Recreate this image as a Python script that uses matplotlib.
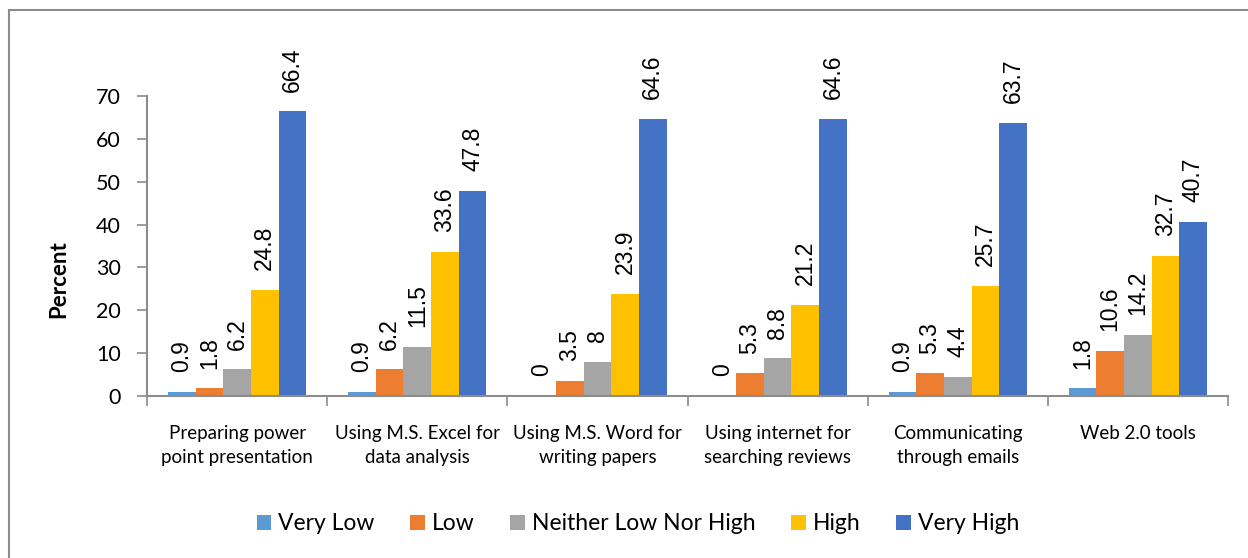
import numpy as np
import matplotlib
matplotlib.use("Agg")
import matplotlib.pyplot as plt
from matplotlib.patches import Rectangle

categories = [
    "Preparing power\npoint presentation",
    "Using M.S. Excel for\ndata analysis",
    "Using M.S. Word for\nwriting papers",
    "Using internet for\nsearching reviews",
    "Communicating\nthrough emails",
    "Web 2.0 tools",
]
series_names = ["Very Low", "Low", "Neither Low Nor High", "High", "Very High"]
very_low = [0.9, 0.9, 0, 0, 0.9, 1.8]
low = [1.8, 6.2, 3.5, 5.3, 5.3, 10.6]
neither = [6.2, 11.5, 8, 8.8, 4.4, 14.2]
high = [24.8, 33.6, 23.9, 21.2, 25.7, 32.7]
very_high = [66.4, 47.8, 64.6, 64.6, 63.7, 40.7]
series = [very_low, low, neither, high, very_high]
colors = ["#5B9BD5", "#ED7D31", "#A5A5A5", "#FFC000", "#4472C4"]

W, H = 1248, 558
fig = plt.figure(figsize=(W / 100, H / 100), dpi=100)
ax = fig.add_axes([147 / W, 1 - 396 / H, (1228 - 147) / W, 300 / H])

# outer chart frame
fig.patches.append(Rectangle((9 / W, -0.05), 1.2, 1 - 10 / H + 0.05,
                             transform=fig.transFigure, fill=False,
                             edgecolor="#8C8C8C", linewidth=1.5))

x = np.arange(len(categories))
bw = 0.1537
for i, (vals, c, name) in enumerate(zip(series, colors, series_names)):
    offs = x + (i - 2) * bw
    ax.bar(offs, vals, width=bw, color=c, label=name, zorder=2)
    for xi, v in zip(offs, vals):
        ax.text(xi, v + 4.6, f"{v:g}", rotation=90, ha="center", va="bottom",
                fontsize=16.5, family="Liberation Sans", clip_on=False)

ax.set_xlim(-0.5, len(categories) - 0.5)
ax.set_ylim(0, 70)
ax.set_yticks(range(0, 71, 10))
ax.set_yticklabels([str(v) for v in range(0, 71, 10)], fontsize=15.5, family="Lato")

ax.set_xticks(x)
ax.set_xticklabels(categories, fontsize=13.5, family="Lato", linespacing=1.5)
ax.set_xticks(np.arange(-0.5, len(categories)), minor=True)
ax.tick_params(axis="x", which="major", length=0, pad=21)
ax.tick_params(axis="x", which="minor", length=7, width=1.2, color="#8C8C8C")
ax.tick_params(axis="y", length=7, width=1.2, color="#8C8C8C", pad=12)

for s in ["top", "right"]:
    ax.spines[s].set_visible(False)
for s in ["left", "bottom"]:
    ax.spines[s].set_color("#8C8C8C")
    ax.spines[s].set_linewidth(1.5)

ax.set_ylabel("Percent", fontsize=16, fontweight="bold", family="Lato")
ax.yaxis.set_label_coords(69 / W, 0.5, transform=fig.transFigure)

fig.legend(loc="center", bbox_to_anchor=(638 / W, 1 - 524 / H), ncol=5,
           frameon=False, prop={"family": "Lato", "size": 16.5},
           handlelength=0.65, handleheight=0.65, handletextpad=0.3,
           columnspacing=1.55)

fig.savefig("out.png", dpi=100)
